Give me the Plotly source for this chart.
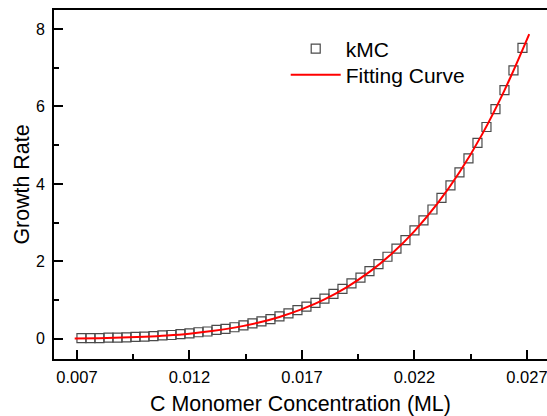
import plotly.graph_objects as go

# kMC data (C monomer concentration in ML, growth rate)
kmc_x = [0.0072, 0.0076, 0.0080, 0.0084, 0.0088, 0.0092, 0.0096, 0.0100, 0.0104, 0.0108,
         0.0112, 0.0116, 0.0120, 0.0124, 0.0128, 0.0132, 0.0136, 0.0140, 0.0144, 0.0148,
         0.0152, 0.0156, 0.0160, 0.0164, 0.0168, 0.0172, 0.0176, 0.0180, 0.0184, 0.0188,
         0.0192, 0.0196, 0.0200, 0.0204, 0.0208, 0.0212, 0.0216, 0.0220, 0.0224, 0.0228,
         0.0232, 0.0236, 0.0240, 0.0244, 0.0248, 0.0252, 0.0256, 0.0260, 0.0264, 0.0268]
kmc_y = [0.02, 0.02, 0.02, 0.03, 0.03, 0.04, 0.05, 0.06, 0.07, 0.09,
         0.10, 0.12, 0.14, 0.17, 0.19, 0.23, 0.26, 0.30, 0.35, 0.40,
         0.45, 0.51, 0.58, 0.66, 0.74, 0.83, 0.93, 1.04, 1.16, 1.29,
         1.43, 1.58, 1.75, 1.93, 2.12, 2.33, 2.55, 2.80, 3.06, 3.34,
         3.64, 3.96, 4.30, 4.66, 5.06, 5.47, 5.93, 6.42, 6.93, 7.51]

# Fitting curve
fit_x = [0.0069, 0.0080, 0.0090, 0.0100, 0.0110, 0.0120, 0.0130, 0.0140, 0.0150, 0.0160,
         0.0170, 0.0180, 0.0190, 0.0200, 0.0210, 0.0220, 0.0230, 0.0240, 0.0250, 0.0260, 0.0271]
fit_y = [0.008, 0.018, 0.032, 0.054, 0.087, 0.134, 0.200, 0.290, 0.410, 0.566,
         0.767, 1.020, 1.337, 1.728, 2.205, 2.783, 3.476, 4.300, 5.273, 6.416, 7.87]

x_ticks = [0.007, 0.012, 0.017, 0.022, 0.027]
x_tick_labels = ["0.007", "0.012", "0.017", "0.022", "0.027"]
y_ticks = [0, 2, 4, 6, 8]

FONT = "Arial, Liberation Sans, sans-serif"

fig = go.Figure()
fig.add_trace(go.Scatter(
    x=kmc_x, y=kmc_y, mode="markers", name="kMC", legend="legend",
    marker=dict(symbol="square-open", size=9, color="#4a4a4a", line=dict(width=1.2, color="#4a4a4a")),
))
fig.add_trace(go.Scatter(
    x=fit_x, y=fit_y, mode="lines", name="Fitting Curve", legend="legend2",
    line=dict(color="#ff0000", width=2, shape="spline"),
))

leg_common = dict(xanchor="left", yanchor="top", bgcolor="rgba(0,0,0,0)",
                  font=dict(size=21, family=FONT), itemwidth=50)

fig.update_layout(
    width=547, height=416,
    margin=dict(l=54, r=0, t=10, b=57),
    paper_bgcolor="white", plot_bgcolor="white",
    font=dict(family=FONT, color="black"),
    showlegend=True,
    legend=dict(x=0.47, y=0.947, **leg_common),
    legend2=dict(x=0.47, y=0.8725, **leg_common),
    xaxis=dict(
        range=[0.00598, 0.02789], showgrid=False, zeroline=False,
        showline=True, linecolor="black", linewidth=2, mirror=True,
        ticks="inside", ticklen=9, tickwidth=1.5, tickcolor="black",
        tickvals=x_ticks, ticktext=x_tick_labels,
        tickfont=dict(size=16.5, family=FONT), ticklabelstandoff=2,
        ticklabeloverflow="allow",
        minor=dict(ticks="inside", ticklen=5, tickwidth=1.5, dtick=0.0025, tick0=0.007, tickcolor="black", showgrid=False),
        title=dict(text="C Monomer Concentration (ML)", font=dict(size=21.4, family=FONT), standoff=14),
    ),
    yaxis=dict(
        range=[-0.52, 8.49], showgrid=False, zeroline=False,
        showline=True, linecolor="black", linewidth=2, mirror=False,
        ticks="inside", ticklen=9, tickwidth=1.5, tickcolor="black",
        tickvals=y_ticks, tickfont=dict(size=16, family=FONT), ticklabelstandoff=4,
        minor=dict(ticks="inside", ticklen=5, tickwidth=1.5, dtick=1, tick0=0, tickcolor="black", showgrid=False),
        title=dict(text="Growth Rate", font=dict(size=21.4, family=FONT), standoff=0),
    ),
)

fig.write_html(
    "out.html",
    config={"displayModeBar": False},
    post_script="document.body.style.margin='0';document.body.style.overflow='hidden';",
)
